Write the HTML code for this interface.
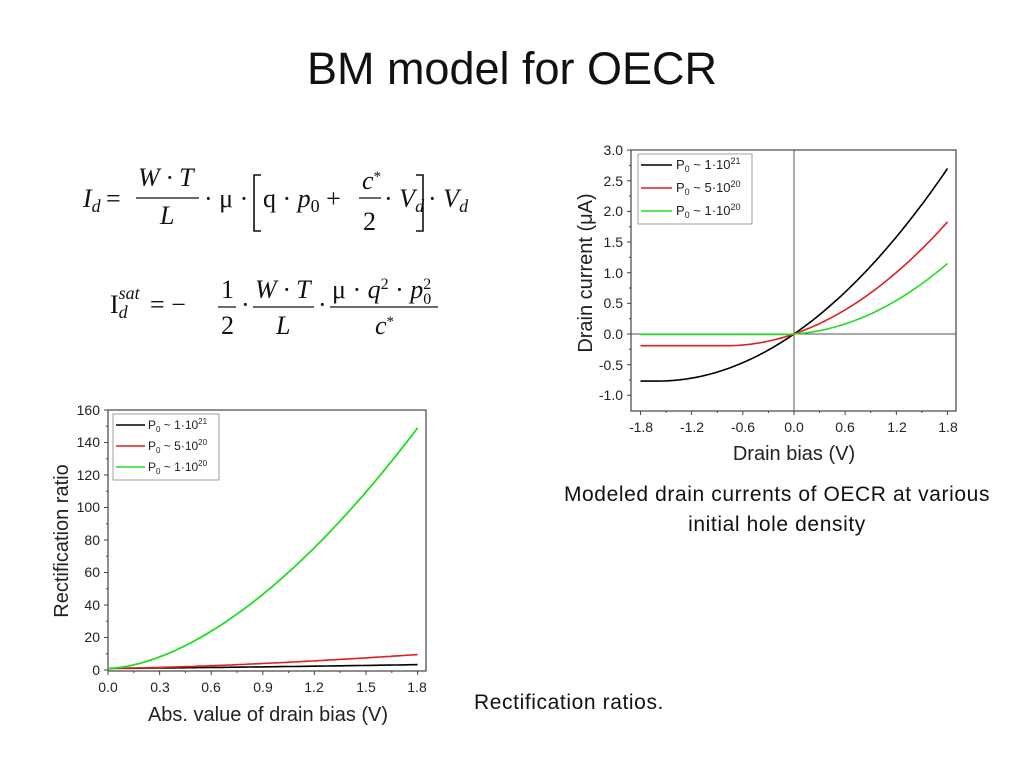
<!DOCTYPE html>
<html><head><meta charset="utf-8"><style>
body{margin:0;background:#fff;}
svg{display:block}
.s{font-family:"Liberation Sans",sans-serif}
.m{font-family:"Liberation Serif",serif;font-size:26px}
.i{font-style:italic}
</style></head><body>
<svg id="g" width="1024" height="767" xmlns="http://www.w3.org/2000/svg">
<text x="512" y="84" text-anchor="middle" class="s" font-size="45" fill="#111">BM model for OECR</text>

<!-- Eq 1 -->
<g class="m" fill="#111">
<text x="83" y="207" class="i">I<tspan font-size="18" dy="5">d</tspan></text>
<text x="106" y="207">=</text>
<text x="138" y="186" class="i">W · T</text>
<line x1="136" y1="198" x2="199" y2="198" stroke="#111" stroke-width="1.3"/>
<text x="160" y="224" class="i">L</text>
<text x="204" y="207">· μ ·</text>
<path d="M261,175 L254,175 L254,231 L261,231" fill="none" stroke="#111" stroke-width="1.6"/>
<text x="263" y="207">q · <tspan class="i">p</tspan><tspan font-size="18" dy="5">0</tspan><tspan dy="-5"> +</tspan></text>
<text x="362" y="189" class="i">c<tspan font-size="15" dy="-8" font-style="normal">*</tspan></text>
<line x1="359" y1="198" x2="381" y2="198" stroke="#111" stroke-width="1.3"/>
<text x="363" y="230">2</text>
<text x="384" y="207">· <tspan class="i">V</tspan><tspan class="i" font-size="18" dy="5">d</tspan></text>
<path d="M416,175 L423,175 L423,231 L416,231" fill="none" stroke="#111" stroke-width="1.6"/>
<text x="428" y="207">· <tspan class="i">V</tspan><tspan class="i" font-size="18" dy="5">d</tspan></text>
</g>
<!-- Eq 2 -->
<g class="m" fill="#111">
<text x="110" y="313">I<tspan class="i" font-size="18" dy="5">d</tspan><tspan class="i" font-size="18" dx="-9" dy="-19">sat</tspan></text>
<text x="150" y="313">= −</text>
<text x="221" y="298">1</text>
<line x1="218" y1="307" x2="236" y2="307" stroke="#111" stroke-width="1.3"/>
<text x="221" y="334">2</text>
<text x="241" y="313">·</text>
<text x="255" y="298" class="i">W · T</text>
<line x1="253" y1="307" x2="314" y2="307" stroke="#111" stroke-width="1.3"/>
<text x="276" y="334" class="i">L</text>
<text x="318" y="313">·</text>
<text x="332" y="298">μ · <tspan class="i">q</tspan><tspan font-size="16" dy="-9">2</tspan><tspan dy="9"> · </tspan><tspan class="i">p</tspan><tspan font-size="16" dy="-9">2</tspan><tspan font-size="16" dx="-8" dy="15">0</tspan></text>
<line x1="330" y1="307" x2="438" y2="307" stroke="#111" stroke-width="1.3"/>
<text x="375" y="334" class="i">c<tspan font-size="15" dy="-8" font-style="normal">*</tspan></text>
</g>

<!-- Right chart -->
<g class="s" fill="#222" font-size="14">
<rect x="631" y="150" width="325" height="261" fill="none" stroke="#444" stroke-width="1.2"/>
<line x1="631" y1="334" x2="956" y2="334" stroke="#555"/>
<line x1="794" y1="150" x2="794" y2="411" stroke="#555"/>
<g id="rt" stroke="#444" stroke-width="1"></g>
<g text-anchor="end">
<text x="623" y="155">3.0</text><text x="623" y="186">2.5</text><text x="623" y="216">2.0</text><text x="623" y="247">1.5</text><text x="623" y="278">1.0</text><text x="623" y="308">0.5</text><text x="623" y="339">0.0</text><text x="623" y="370">-0.5</text><text x="623" y="400">-1.0</text>
</g>
<g text-anchor="middle">
<text x="641" y="432">-1.8</text><text x="692" y="432">-1.2</text><text x="743" y="432">-0.6</text><text x="794" y="432">0.0</text><text x="845" y="432">0.6</text><text x="897" y="432">1.2</text><text x="948" y="432">1.8</text>
</g>
<text x="794" y="460" text-anchor="middle" font-size="20">Drain bias (V)</text>
<text transform="translate(592,273) rotate(-90)" text-anchor="middle" font-size="20">Drain current (μA)</text>
<rect x="638" y="154" width="114" height="70" fill="#fff" stroke="#888" stroke-width="0.8"/>
<line x1="641" y1="165" x2="672" y2="165" stroke="#000" stroke-width="1.6"/>
<line x1="641" y1="188" x2="672" y2="188" stroke="#e02020" stroke-width="1.6"/>
<line x1="641" y1="211" x2="672" y2="211" stroke="#22dd22" stroke-width="1.6"/>
<g font-size="13"><text x="676" y="169">P<tspan font-size="9" dy="3">0</tspan><tspan dy="-3"> ~ 1·10</tspan><tspan font-size="9" dy="-5">21</tspan></text>
<text x="676" y="192">P<tspan font-size="9" dy="3">0</tspan><tspan dy="-3"> ~ 5·10</tspan><tspan font-size="9" dy="-5">20</tspan></text>
<text x="676" y="215">P<tspan font-size="9" dy="3">0</tspan><tspan dy="-3"> ~ 1·10</tspan><tspan font-size="9" dy="-5">20</tspan></text></g>
<path id="r1" fill="none" stroke="#000" stroke-width="1.6"/>
<path id="r2" fill="none" stroke="#e02020" stroke-width="1.6"/>
<path id="r3" fill="none" stroke="#22dd22" stroke-width="1.6"/>
</g>

<!-- Left chart -->
<g class="s" fill="#222" font-size="14">
<rect x="108" y="410" width="318" height="261" fill="none" stroke="#444" stroke-width="1.2"/>
<g id="lt" stroke="#444" stroke-width="1"></g>
<g text-anchor="end">
<text x="100" y="675">0</text><text x="100" y="642">20</text><text x="100" y="610">40</text><text x="100" y="577">60</text><text x="100" y="545">80</text><text x="100" y="512">100</text><text x="100" y="480">120</text><text x="100" y="447">140</text><text x="100" y="415">160</text>
</g>
<g text-anchor="middle">
<text x="108" y="692">0.0</text><text x="160" y="692">0.3</text><text x="211" y="692">0.6</text><text x="263" y="692">0.9</text><text x="314" y="692">1.2</text><text x="366" y="692">1.5</text><text x="417" y="692">1.8</text>
</g>
<text x="268" y="721" text-anchor="middle" font-size="20">Abs. value of drain bias (V)</text>
<text transform="translate(68,541) rotate(-90)" text-anchor="middle" font-size="20">Rectification ratio</text>
<rect x="113" y="414" width="106" height="66" fill="#fff" stroke="#888" stroke-width="0.8"/>
<line x1="116" y1="425" x2="145" y2="425" stroke="#000" stroke-width="1.6"/>
<line x1="116" y1="446" x2="145" y2="446" stroke="#e02020" stroke-width="1.6"/>
<line x1="116" y1="467" x2="145" y2="467" stroke="#22dd22" stroke-width="1.6"/>
<g font-size="12"><text x="148" y="429">P<tspan font-size="8" dy="3">0</tspan><tspan dy="-3"> ~ 1·10</tspan><tspan font-size="8" dy="-5">21</tspan></text>
<text x="148" y="450">P<tspan font-size="8" dy="3">0</tspan><tspan dy="-3"> ~ 5·10</tspan><tspan font-size="8" dy="-5">20</tspan></text>
<text x="148" y="471">P<tspan font-size="8" dy="3">0</tspan><tspan dy="-3"> ~ 1·10</tspan><tspan font-size="8" dy="-5">20</tspan></text></g>
<path id="l1" fill="none" stroke="#000" stroke-width="1.6"/>
<path id="l2" fill="none" stroke="#e02020" stroke-width="1.6"/>
<path id="l3" fill="none" stroke="#22dd22" stroke-width="1.8"/>
</g>

<g class="s" fill="#111" font-size="21" text-anchor="middle" letter-spacing="0.6">
<text x="777" y="501">Modeled drain currents of OECR at various</text>
<text x="777" y="531">initial hole density</text>
<text x="569" y="709">Rectification ratios.</text>
</g>
</svg>
<script>
function I(V,A,Vs){if(V<-Vs)V=-Vs;return A*(V+V*V/(2*Vs));}
function rx(v){return 794+v*85.3;} function ry(i){return 334-i*61.3;}
[["r1",0.96,1.6],["r2",0.478,0.8],["r3",0.0913,0.15]].forEach(function(c){
 var d="";for(var k=0;k<=180;k++){var v=-1.8+k*0.02;d+=(k?"L":"M")+rx(v).toFixed(1)+","+ry(I(v,c[1],c[2])).toFixed(1);}
 document.getElementById(c[0]).setAttribute("d",d);});
function lx(v){return 108+v*172;} function ly(r){return 670-r*1.625;}
[["l1",2.3,1.3],["l2",8.5,1.5],["l3",148,1.7]].forEach(function(c){
 var d="";for(var k=0;k<=90;k++){var v=k*0.02;d+=(k?"L":"M")+lx(v).toFixed(1)+","+ly(1+c[1]*Math.pow(v/1.8,c[2])).toFixed(1);}
 document.getElementById(c[0]).setAttribute("d",d);});
var NS="http://www.w3.org/2000/svg";
function ln(g,x1,y1,x2,y2){var l=document.createElementNS(NS,"line");l.setAttribute("x1",x1);l.setAttribute("y1",y1);l.setAttribute("x2",x2);l.setAttribute("y2",y2);g.appendChild(l);}
var rt=document.getElementById("rt");
for(var k=0;k<=16;k++){var y=ry(3-k*0.25);ln(rt,631,y,k%2?629:627,y);}
for(var k=0;k<=12;k++){var x=rx(-1.8+k*0.3);ln(rt,x,411,x,k%2?413:415);}
var lt=document.getElementById("lt");
for(var k=0;k<=16;k++){var y=ly(k*10);ln(lt,108,y,k%2?106:104,y);}
for(var k=0;k<=12;k++){var x=lx(k*0.15);ln(lt,x,671,x,k%2?673:675);}
</script>
</body></html>
